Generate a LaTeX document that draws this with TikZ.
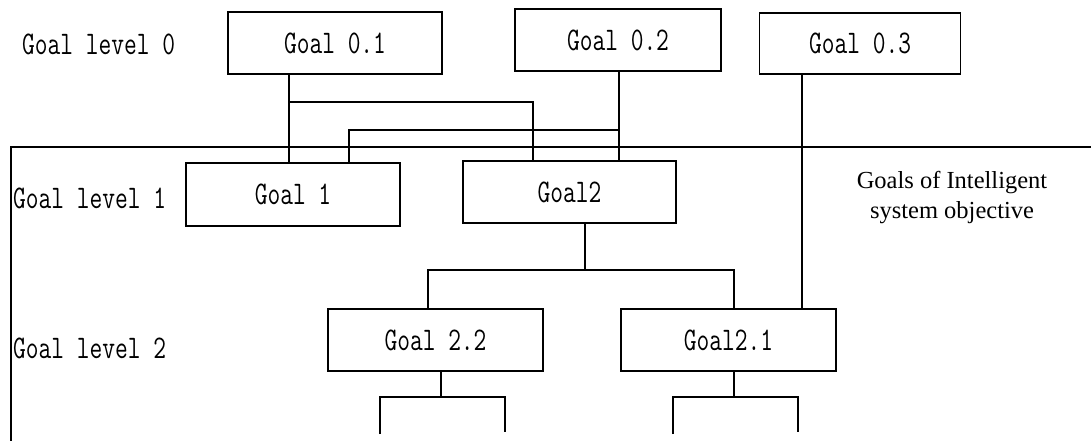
\documentclass[tikz,border=0pt]{standalone}
\usepackage{fontspec}
\setmainfont{Liberation Serif}
\usepackage{graphicx}
\newcommand{\sq}[1]{\scalebox{0.75}[1]{#1}}
\begin{document}
\begin{tikzpicture}[x=1pt,y=-1pt,
  gbox/.style={draw,line width=1.4pt,minimum height=62pt,inner sep=0pt,font=\ttfamily\fontsize{33}{33}\selectfont},
  lvl/.style={inner sep=0pt,anchor=west,font=\ttfamily\fontsize{33}{33}\selectfont},
  conn/.style={line width=1.4pt},
  frame/.style={line width=2pt}]
\useasboundingbox (0,0) rectangle (1091,441);
% frame
\coordinate (fb) at (11,441);
\coordinate (fc) at (11,147);
\coordinate (fr) at (1091,147);
\draw[frame] (fb) -- (fc) -- (fr);
% level labels
\node[lvl] (l0) at (22,44) {\sq{Goal level 0}};
\node[lvl] (l1) at (13,198) {\sq{Goal level 1}};
\node[lvl] (l2) at (13,348) {\sq{Goal level 2}};
% boxes
\node[gbox,minimum width=214pt] (g01) at (335,43) {\sq{Goal 0.1}};
\node[gbox,minimum width=206pt] (g02) at (618,40) {\sq{Goal 0.2}};
\node[gbox,minimum width=201pt,minimum height=61pt] (g03) at (860,43.5) {\sq{Goal 0.3}};
\node[gbox,minimum width=214pt,minimum height=63pt] (g1) at (293,194.5) {\sq{Goal 1}};
\node[gbox,minimum width=213pt] (g2) at (569.5,192) {\sq{Goal2}};
\node[gbox,minimum width=215pt] (g22) at (435.5,340) {\sq{Goal 2.2}};
\node[gbox,minimum width=215pt] (g21) at (728.5,340) {\sq{Goal2.1}};
\node[align=center,inner sep=0pt,font=\fontsize{24.5}{30}\selectfont] (obj) at (952,198) {Goals of Intelligent\\system objective};
% coordinates
\coordinate (c1) at (289,102);
\coordinate (c2) at (533,102);
\coordinate (c3) at (349,130);
\coordinate (c4) at (619,130);
\coordinate (x802) at (802,0);
\coordinate (c5) at (585,270);
\coordinate (c6) at (428,270);
\coordinate (c7) at (734,270);
\coordinate (c8) at (441,397);
\coordinate (c9) at (380,397);
\coordinate (c10) at (505,397);
\coordinate (e1) at (380,434);
\coordinate (e2) at (505,432);
\coordinate (c11) at (734,397);
\coordinate (c12) at (673,397);
\coordinate (c13) at (798,397);
\coordinate (e3) at (673,434);
\coordinate (e4) at (798,432);
% connectors
\draw[conn] (g01.south -| c1) -- (g1.north -| c1);
\draw[conn] (c1) -- (c2) -- (g2.north -| c2);
\draw[conn] (g02.south -| c4) -- (g2.north -| c4);
\draw[conn] (g1.north -| c3) -- (c3) -- (c4);
\draw[conn] (g03.south -| x802) -- (g21.north -| x802);
\draw[conn] (g2.south -| c5) -- (c5);
\draw[conn] (g22.north -| c6) -- (c6) -- (c7) -- (g21.north -| c7);
\draw[conn] (g22.south -| c8) -- (c8);
\draw[conn] (e1) -- (c9) -- (c10) -- (e2);
\draw[conn] (g21.south -| c11) -- (c11);
\draw[conn] (e3) -- (c12) -- (c13) -- (e4);
\end{tikzpicture}
\end{document}
